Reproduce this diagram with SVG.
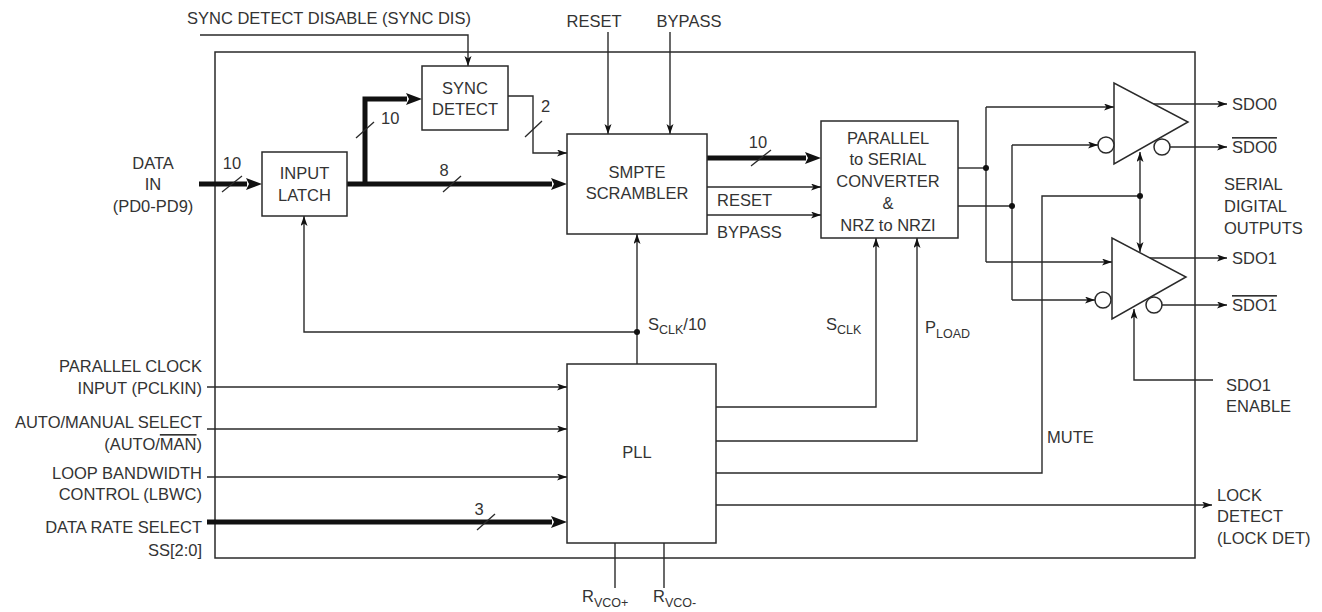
<svg xmlns="http://www.w3.org/2000/svg" width="1322" height="612" viewBox="0 0 1322 612">
<style>
text{font-family:"Liberation Sans",Arial,Helvetica,sans-serif;font-size:16.5px;fill:#333}
.c{text-anchor:middle}
.r{text-anchor:end}
.sub{font-size:12.5px}
.box{fill:#fff;stroke:#2a2a2a;stroke-width:1.5}
.w{fill:none;stroke:#2a2a2a;stroke-width:1.4}
.bus{fill:none;stroke:#111;stroke-width:5}
.sl{fill:none;stroke:#2a2a2a;stroke-width:1.3}
.dot{fill:#111}
.ov{text-decoration:overline}
</style>
<defs>
<marker id="a" markerUnits="userSpaceOnUse" markerWidth="12" markerHeight="8" refX="10" refY="3.5" orient="auto">
<path d="M0,0 L10,3.5 L0,7 L2.5,3.5 z" fill="#111"/>
</marker>
<marker id="t" markerUnits="userSpaceOnUse" markerWidth="18" markerHeight="14" refX="1" refY="6" orient="auto">
<path d="M0,0 L16,6 L0,12 L3,6 z" fill="#111"/>
</marker>
</defs>

<rect id="frame" x="215" y="52" width="980" height="506" fill="none" stroke="#2a2a2a" stroke-width="1.5"/>

<g id="connectors">
<!-- sync detect disable -->
<path class="w" d="M200,35 H468 V66" marker-end="url(#a)"/>
<!-- data in bus -->
<path class="bus" d="M199,184 H247" marker-end="url(#t)"/>
<!-- latch to scrambler 8 bus -->
<path class="bus" d="M347,184 H552" marker-end="url(#t)"/>
<!-- latch to sync detect 10 bus -->
<path class="bus" d="M365,186 V99 H407" marker-end="url(#t)"/>
<!-- sync detect to scrambler 2 -->
<path class="w" d="M508,96 H533 V153 H567" marker-end="url(#a)"/>
<!-- reset / bypass top -->
<path class="w" d="M608,32 V134" marker-end="url(#a)"/>
<path class="w" d="M670,32 V134" marker-end="url(#a)"/>
<!-- scrambler to parallel bus 10 -->
<path class="bus" d="M707,158 H806" marker-end="url(#t)"/>
<path class="w" d="M707,187 H821" marker-end="url(#a)"/>
<path class="w" d="M707,215 H821" marker-end="url(#a)"/>
<!-- SCLK/10 -->
<path class="w" d="M637,364 V234" marker-end="url(#a)"/>
<path class="w" d="M637,332 H304 V216" marker-end="url(#a)"/>
<!-- SCLK, PLOAD -->
<path class="w" d="M716,407 H876 V238" marker-end="url(#a)"/>
<path class="w" d="M716,441 H917 V238" marker-end="url(#a)"/>
<!-- left inputs to PLL -->
<path class="w" d="M207,387 H567" marker-end="url(#a)"/>
<path class="w" d="M207,429 H567" marker-end="url(#a)"/>
<path class="w" d="M207,477 H567" marker-end="url(#a)"/>
<path class="bus" d="M207,522 H552" marker-end="url(#t)"/>
<!-- MUTE -->
<path class="w" d="M716,473 H1042 V196 H1140"/>
<path class="w" d="M1140,196 V152" marker-end="url(#a)"/>
<path class="w" d="M1140,196 V252" marker-end="url(#a)"/>
<!-- LOCK DET -->
<path class="w" d="M716,505 H1212" marker-end="url(#a)"/>
<!-- RVCO -->
<path class="w" d="M615,543 V588"/>
<path class="w" d="M664,543 V588"/>
<!-- parallel to buffers -->
<path class="w" d="M958,168 H986"/>
<path class="w" d="M986,107 V262"/>
<path class="w" d="M986,107 H1114" marker-end="url(#a)"/>
<path class="w" d="M986,262 H1112" marker-end="url(#a)"/>
<path class="w" d="M958,206 H1012"/>
<path class="w" d="M1012,145 V300"/>
<path class="w" d="M1012,145 H1098" marker-end="url(#a)"/>
<path class="w" d="M1012,300 H1095" marker-end="url(#a)"/>
<!-- outputs -->
<path class="w" d="M1153,104 H1227" marker-end="url(#a)"/>
<path class="w" d="M1170,147 H1227" marker-end="url(#a)"/>
<path class="w" d="M1149,258 H1227" marker-end="url(#a)"/>
<path class="w" d="M1162,305 H1227" marker-end="url(#a)"/>
<!-- SDO1 enable -->
<path class="w" d="M1213,380 H1134 V309" marker-end="url(#a)"/>
<!-- junction dots -->
<circle class="dot" cx="986" cy="168" r="3"/>
<circle class="dot" cx="1012" cy="206" r="3"/>
<circle class="dot" cx="1140" cy="196" r="3"/>
<circle class="dot" cx="637" cy="332" r="3"/>
<!-- bus slashes -->
<path class="sl" d="M222,192 L242,176"/>
<path class="sl" d="M356,138 L374,122"/>
<path class="sl" d="M443,192 L461,176"/>
<path class="sl" d="M525,137 L542,121"/>
<path class="sl" d="M751,166 L771,150"/>
<path class="sl" d="M477,530 L495,514"/>
</g>

<g id="bus-labels">
<text class="c" x="232" y="169">10</text>
<text x="381" y="124">10</text>
<text class="c" x="444" y="176">8</text>
<text x="541" y="112">2</text>
<text class="c" x="758" y="148">10</text>
<text class="c" x="479" y="515">3</text>
</g>

<g id="sync-detect">
<rect class="box" x="422" y="66" width="86" height="64"/>
<text class="c" x="465" y="94">SYNC</text>
<text class="c" x="465" y="115">DETECT</text>
</g>

<g id="input-latch">
<rect class="box" x="262" y="152" width="85" height="64"/>
<text class="c" x="304.5" y="179">INPUT</text>
<text class="c" x="304.5" y="201">LATCH</text>
</g>

<g id="smpte-scrambler">
<rect class="box" x="567" y="134" width="140" height="100"/>
<text class="c" x="637" y="178">SMPTE</text>
<text class="c" x="637" y="199">SCRAMBLER</text>
</g>

<g id="parallel-serial">
<rect class="box" x="821" y="121" width="137" height="117"/>
<text class="c" x="888" y="144">PARALLEL</text>
<text class="c" x="888" y="165">to SERIAL</text>
<text class="c" x="888" y="187">CONVERTER</text>
<text class="c" x="888" y="209">&amp;</text>
<text class="c" x="888" y="231">NRZ to NRZI</text>
</g>

<g id="pll">
<rect class="box" x="567" y="364" width="149" height="179"/>
<text class="c" x="637" y="458">PLL</text>
</g>

<g id="buffer-0">
<polygon class="box" points="1114,83 1114,164 1188,122"/>
<circle class="box" cx="1106" cy="145" r="8"/>
<circle class="box" cx="1162" cy="147" r="8"/>
</g>

<g id="buffer-1">
<polygon class="box" points="1112,238 1112,319 1186,277"/>
<circle class="box" cx="1103" cy="300" r="8"/>
<circle class="box" cx="1154" cy="305" r="8"/>
</g>

<g id="labels">
<text x="187" y="24">SYNC DETECT DISABLE (SYNC DIS)</text>
<text class="c" x="594" y="27">RESET</text>
<text class="c" x="689" y="27">BYPASS</text>
<text class="c" x="153" y="169">DATA</text>
<text class="c" x="153" y="190">IN</text>
<text class="c" x="153" y="212">(PD0-PD9)</text>
<text x="717" y="206">RESET</text>
<text x="717" y="238">BYPASS</text>
<text x="648" y="330">S<tspan class="sub" dy="4">CLK</tspan><tspan dy="-4">/10</tspan></text>
<text x="826" y="330">S<tspan class="sub" dy="4">CLK</tspan></text>
<text x="925" y="333">P<tspan class="sub" dy="5">LOAD</tspan></text>
<text class="r" x="202" y="372">PARALLEL CLOCK</text>
<text class="r" x="202" y="394">INPUT (PCLKIN)</text>
<text class="r" x="202" y="428">AUTO/MANUAL SELECT</text>
<text class="r" x="202" y="450">(AUTO/<tspan class="ov">MAN</tspan>)</text>
<text class="r" x="202" y="479">LOOP BANDWIDTH</text>
<text class="r" x="202" y="500">CONTROL (LBWC)</text>
<text class="r" x="202" y="533">DATA RATE SELECT</text>
<text class="r" x="202" y="556">SS[2:0]</text>
<text x="582" y="602">R<tspan class="sub" dy="5">VCO+</tspan></text>
<text x="653" y="602">R<tspan class="sub" dy="5">VCO-</tspan></text>
<text x="1047" y="443">MUTE</text>
<text x="1217" y="501">LOCK</text>
<text x="1217" y="522">DETECT</text>
<text x="1217" y="544">(LOCK DET)</text>
<text x="1232" y="110">SDO0</text>
<text x="1232" y="153"><tspan class="ov">SDO0</tspan></text>
<text x="1224" y="190">SERIAL</text>
<text x="1224" y="212">DIGITAL</text>
<text x="1224" y="234">OUTPUTS</text>
<text x="1232" y="264">SDO1</text>
<text x="1232" y="311"><tspan class="ov">SDO1</tspan></text>
<text x="1226" y="391">SDO1</text>
<text x="1226" y="412">ENABLE</text>
</g>
</svg>
